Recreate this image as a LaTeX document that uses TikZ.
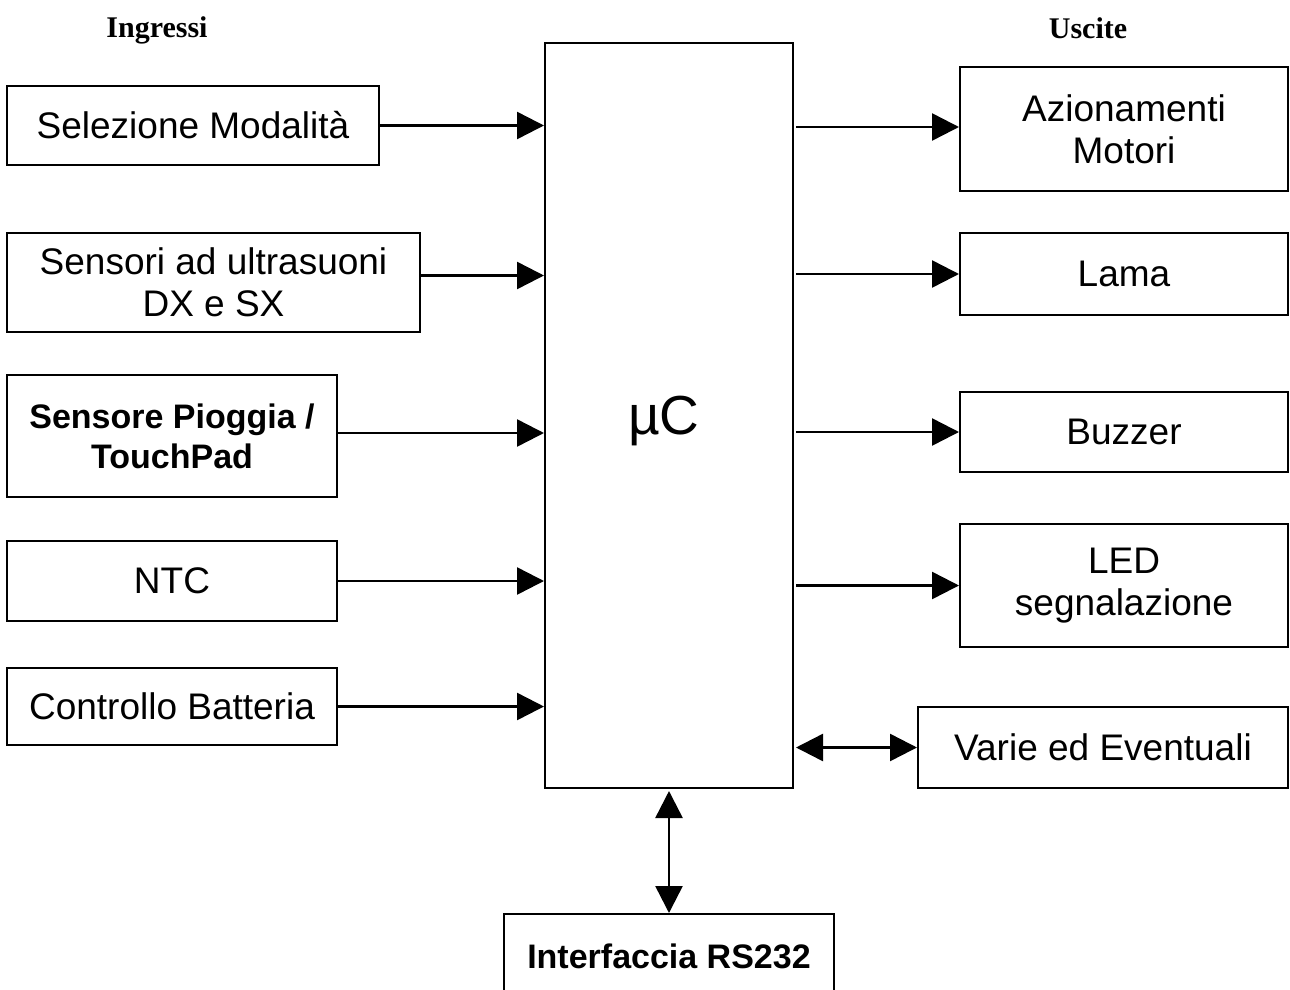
\documentclass[tikz,border=0pt]{standalone}
\usepackage{fontspec}
\setmainfont{Liberation Sans}
\newfontfamily\titlefont{Liberation Serif}
\usetikzlibrary{arrows.meta}

\begin{document}
\begin{tikzpicture}[x=1pt,y=-1pt,
  blk/.style={draw, line width=2pt, rectangle, inner sep=0pt, align=center,
              font=\fontsize{37}{42}\selectfont},
  bblk/.style={blk, font=\fontsize{34}{40}\selectfont\bfseries},
  heading/.style={font=\titlefont\fontsize{30}{34}\selectfont\bfseries},
  arr/.style={line width=2.5pt, -{Triangle[length=27pt,width=27pt]}},
  dblarr/.style={line width=2.5pt, {Triangle[length=27pt,width=27pt]}-{Triangle[length=27pt,width=27pt]}}]

\useasboundingbox (0,0) rectangle (1290,990);
\begin{scope}
\clip (0,0) rectangle (1290,990);

% headings
\node[heading] (hin)  at (157,30)  {Ingressi};
\node[heading] (hout) at (1088,28) {Uscite};

% microcontroller
\node[draw, line width=2pt, minimum width=248, minimum height=745, inner sep=0pt] (mc) at (669,415.5) {};
\node[font=\fontsize{55}{60}\selectfont] (mclbl) at (664,421) {µC};

% inputs
\node[blk, minimum width=372, minimum height=79]  (sel)  at (193,125.5) {Selezione Modalità};
\node[blk, minimum width=413, minimum height=99]  (sens) at (213.5,282.5) {Sensori ad ultrasuoni\\DX e SX};
\node[bblk, minimum width=330, minimum height=122] (rain) at (172,436) {Sensore Pioggia /\\TouchPad};
\node[blk, minimum width=330, minimum height=80]  (ntc)  at (172,581) {NTC};
\node[blk, minimum width=330, minimum height=77]  (batt) at (172,706.5) {Controllo Batteria};

% outputs
\node[blk, minimum width=328, minimum height=124] (mot)  at (1124,129) {Azionamenti\\Motori};
\node[blk, minimum width=328, minimum height=82]  (lama) at (1124,274) {Lama};
\node[blk, minimum width=328, minimum height=80]  (buz)  at (1124,432) {Buzzer};
\node[blk, minimum width=328, minimum height=123] (led)  at (1124,585.5) {LED\\segnalazione};
\node[blk, minimum width=370, minimum height=81]  (var)  at (1103,747.5) {Varie ed Eventuali};

% serial interface
\node[bblk, minimum width=330, minimum height=84] (rs) at (669,956) {Interfaccia RS232};

% input connectors
\draw[arr] (sel.east) -- (sel.east -| mc.west);
\draw[arr] ([yshift=7pt]sens.east) -- ([yshift=7pt]sens.east -| mc.west);
\draw[arr] ([yshift=3pt]rain.east) -- ([yshift=3pt]rain.east -| mc.west);
\draw[arr] (ntc.east) -- (ntc.east -| mc.west);
\draw[arr] (batt.east) -- (batt.east -| mc.west);

% output connectors
\draw[arr] ([xshift=2pt,yshift=2pt]mot.west -| mc.east) -- ([yshift=2pt]mot.west);
\draw[arr] ([xshift=2pt]lama.west -| mc.east) -- (lama.west);
\draw[arr] ([xshift=2pt]buz.west -| mc.east) -- (buz.west);
\draw[arr] ([xshift=2pt]led.west -| mc.east) -- (led.west);
\draw[dblarr] ([xshift=2pt]var.west -| mc.east) -- (var.west);

% bidirectional serial link
\draw[dblarr] ([yshift=-2pt]mc.south) -- (rs.north);
\end{scope}
\end{tikzpicture}
\end{document}
